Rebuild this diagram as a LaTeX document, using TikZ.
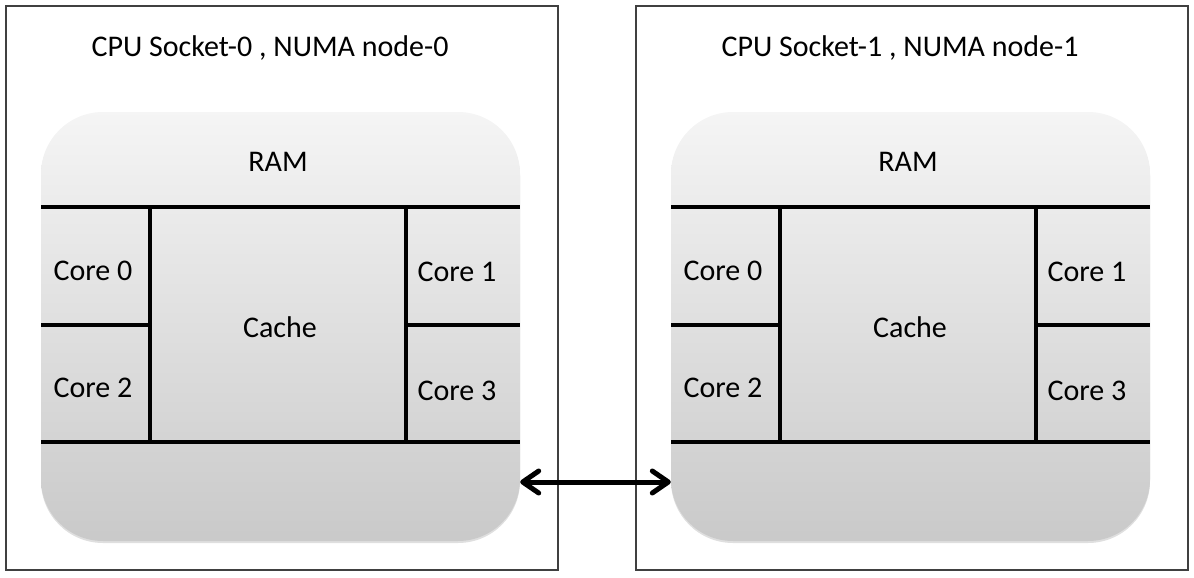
\documentclass[tikz,border=0pt]{standalone}
\usepackage{fontspec}
\setmainfont{Carlito}
\usetikzlibrary{calc,positioning,arrows.meta,shadows}

\begin{document}
\begin{tikzpicture}[
  x=1pt,y=-1pt,
  font=\fontsize{30}{36}\selectfont,
  frame/.style={draw=black!75,line width=1.5pt},
  chip/.style={rounded corners=62pt,top color=black!4,bottom color=black!21,
    drop shadow={shadow xshift=0pt,shadow yshift=-2pt,opacity=.25}},
  part/.style={line width=3.2pt},
  link/.style={{Straight Barb[round,length=16pt,width=22pt]}-{Straight Barb[round,length=16pt,width=22pt]},line width=5pt},
  ]

  \useasboundingbox (0,0) rectangle (1194,578);

  \foreach \s in {0,1}
  {
  \begin{scope}[xshift=\s*630pt]

  \draw[frame] (6,6) rectangle (558,570);
  \node (title\s) at (270,48) {CPU Socket-\s{} , NUMA node-\s};

  \node[chip,minimum width=479pt,minimum height=429pt,inner sep=0pt] (chip\s) at (280.5,326.5) {};

  \draw[part] (41,207) -- (520,207);
  \draw[part] (41,442) -- (520,442);
  \draw[part] (150,207) -- (150,442);
  \draw[part] (406,207) -- (406,442);
  \draw[part] (41,325) -- (150,325);
  \draw[part] (406,325) -- (520,325);

  \node (ram\s) at (278,162) {RAM};
  \node (cache\s) at (280,327) {Cache};
  \node (core\s0) at (93,271) {Core 0};
  \node (core\s2) at (93,388) {Core 2};
  \node (core\s1) at (457,272) {Core 1};
  \node (core\s3) at (457,391) {Core 3};

  \end{scope}
  }

  \coordinate (lnk) at (0,482);
  \draw[link] (chip0.east |- lnk) -- (chip1.west |- lnk);

\end{tikzpicture}
\end{document}
